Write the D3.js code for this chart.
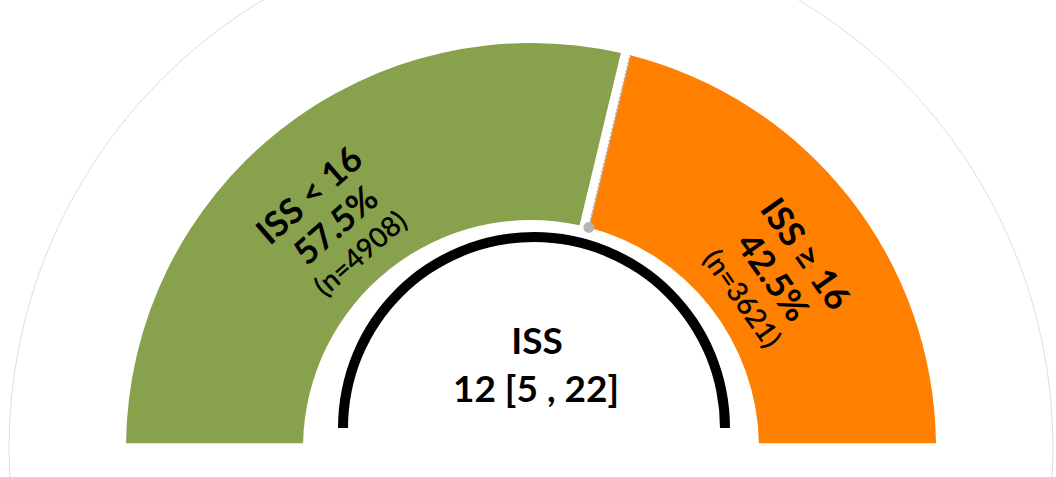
<!DOCTYPE html>
<html>
<head>
<meta charset="utf-8">
<script src="https://cdn.jsdelivr.net/npm/d3@7"></script>
<style>
  html, body { margin: 0; padding: 0; background: #fff; }
  svg { display: block; font-family: Lato, "Open Sans", "DejaVu Sans", sans-serif; }
</style>
</head>
<body>
<div id="svg-holder"></div>
<script>
// data
let groups = ["ISS < 16", "ISS \u2265 16"]
let shares = [57.5, 42.5]
let counts = [4908, 3621]
let centerTitle = "ISS"
let median = 12, q1 = 5, q3 = 22

let colors = ["#88a14c", "#ff7f00"]

let width = 1056,
    height = 477

let svg = d3.select("#svg-holder").append('svg')
    .attr("width", width)
    .attr("height", height)

let cx = 531, cy = 448
let outerR = 405, innerR = 228

let g = svg.append('g').attr('transform', `translate(${cx},${cy})`)

// faint outer guide circle
g.append('circle')
    .attr('r', 522)
    .attr('fill', 'none')
    .attr('stroke', '#dedede')
    .attr('stroke-width', 1)

let pie = d3.pie()
    .sort(null)
    .startAngle(-Math.PI / 2)
    .endAngle(Math.PI / 2)

let arcs = pie(shares)

let arc = d3.arc()
    .innerRadius(innerR)
    .outerRadius(outerR)
    .padAngle(0.03)
    .padRadius(320)

g.selectAll('path.slice')
    .data(arcs)
    .enter()
    .append('path')
    .attr('class', 'slice')
    .attr('d', arc)
    .attr('fill', (d, i) => colors[i])

// selection-like dotted edge + handle on the second slice
let s = arcs[1].startAngle + 0.03 * 320 / 2 / innerR
let s2 = arcs[1].startAngle + 0.03 * 320 / 2 / outerR
g.append('line')
    .attr('x1', innerR * Math.sin(s))
    .attr('y1', -innerR * Math.cos(s))
    .attr('x2', outerR * Math.sin(s2))
    .attr('y2', -outerR * Math.cos(s2))
    .attr('stroke', '#b0b0b0')
    .attr('stroke-width', 2)
    .attr('stroke-dasharray', '2,2')
g.append('circle')
    .attr('cx', innerR * Math.sin(s))
    .attr('cy', -innerR * Math.cos(s))
    .attr('r', 5.5)
    .attr('fill', '#b4b4b4')

// slice labels
let labelR = 298
arcs.forEach((d, i) => {
    let mid = (d.startAngle + d.endAngle) / 2 * 180 / Math.PI
    mid += mid < 0 ? -3 : 3
    let lg = g.append('g')
        .attr('transform', `rotate(${mid}) translate(0,${-labelR})`)
    let lines = [
        { t: groups[i], size: 35, w: 'bold', dy: -40 },
        { t: `${d3.format('.1f')(shares[i])}%`, size: 35, w: 'bold', dy: 0 },
        { t: `(n=${counts[i]})`, size: 28, w: '600', dy: 38 }
    ]
    lg.selectAll('text')
        .data(lines)
        .enter()
        .append('text')
        .attr('y', l => l.dy)
        .attr('text-anchor', 'middle')
        .attr('dominant-baseline', 'central')
        .style('font-size', l => l.size + 'px')
        .style('font-weight', l => l.w)
        .attr('fill', '#000')
        .text(l => l.t)
})

// inner black ring
let ring = d3.arc()
    .innerRadius(186)
    .outerRadius(196)
    .startAngle(-Math.PI / 2)
    .endAngle(Math.PI / 2)

svg.append('path')
    .attr('transform', `translate(${cx + 3},${cy - 20})`)
    .attr('d', ring())
    .attr('fill', '#000')

// centre text
svg.append('text')
    .attr('x', cx + 6)
    .attr('y', 354)
    .attr('text-anchor', 'middle')
    .style('font-size', '37px')
    .style('font-weight', 'bold')
    .text(centerTitle)

svg.append('text')
    .attr('x', cx + 5)
    .attr('y', 402)
    .attr('text-anchor', 'middle')
    .style('font-size', '37px')
    .style('font-weight', 'bold')
    .text(`${median} [${q1} , ${q3}]`)
</script>
</body>
</html>
